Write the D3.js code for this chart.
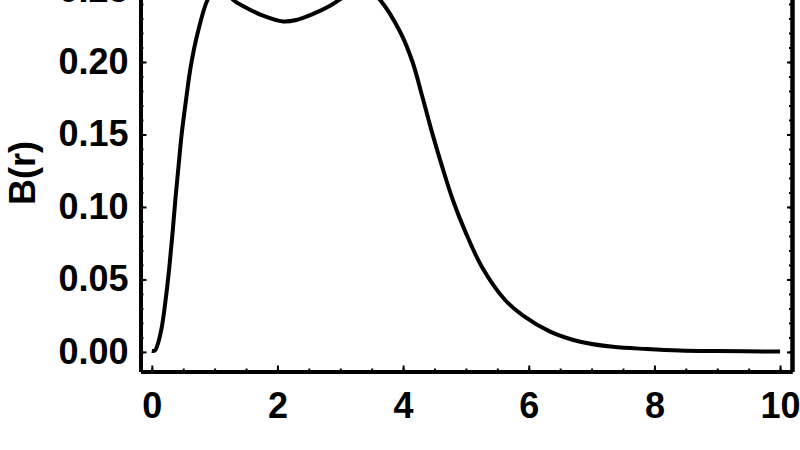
<!DOCTYPE html>
<html>
<head>
<meta charset="utf-8">
<script src="https://cdn.jsdelivr.net/npm/d3@7"></script>
<style>
  html, body { margin: 0; padding: 0; background: #fff; }
  svg { display: block; }
  .tick text { font-family: "Liberation Sans", Arial, sans-serif; font-weight: bold; }
</style>
</head>
<body>
<div id="chart"></div>
<script>
// r values and B(r)
const rValues = [0, 0.05, 0.14, 0.22, 0.28, 0.33, 0.375, 0.425, 0.48, 0.545, 0.62, 0.73, 0.89, 1.0, 1.1, 1.2, 1.29,
  1.45, 1.77, 2.09, 2.3, 2.56, 2.83, 2.99, 3.2, 3.35, 3.5, 3.63, 3.95, 4.15, 4.3, 4.45, 4.62, 4.79, 4.99,
  5.25, 5.62, 5.91, 6.34, 6.82, 7.34, 7.88, 8.4, 9.0, 10];
const bValues = [0.0007, 0.001, 0.013, 0.036, 0.059, 0.082, 0.105, 0.128, 0.152, 0.174, 0.197, 0.220, 0.243, 0.249, 0.251, 0.248, 0.243,
  0.2386, 0.232, 0.228, 0.229, 0.233, 0.2386, 0.243, 0.249, 0.251, 0.248, 0.243, 0.221, 0.200, 0.177, 0.153, 0.128, 0.105, 0.083,
  0.059, 0.036, 0.025, 0.014, 0.007, 0.0035, 0.002, 0.001, 0.0006, 0.0003];

const xTicks = [0, 2, 4, 6, 8, 10];
const yTicks = [0, 0.05, 0.10, 0.15, 0.20, 0.25];
const xMinorTicks = d3.range(0, 10.01, 0.5);
const yMinorTicks = d3.range(0, 0.2601, 0.01);
const yLabel = "B(r)";

function drawChart() {
  const width = 800;
  const height = 450;
  const fontSize = 36;

  const svg = d3.select("#chart")
    .append("svg")
    .attr("width", width)
    .attr("height", height);

  // plot range (frame edges); the top edge sits above the visible area
  const x = d3.scaleLinear().domain([-0.18, 10.19]).range([140.5, 792]);
  const y = d3.scaleLinear().domain([-0.0135, 0.27]).range([371.5, -39.5]);

  const frameWidth = 4;

  const addAxis = (axis, transform, labels) => {
    const g = svg.append("g").attr("transform", transform).call(axis);
    g.select(".domain").attr("stroke-width", frameWidth).attr("stroke", "#000");
    g.selectAll(".tick line").attr("stroke-width", 2).attr("stroke", "#000");
    if (labels) {
      g.selectAll(".tick text").attr("font-size", fontSize).attr("fill", "#000");
    } else {
      g.selectAll(".tick text").remove();
    }
    return g;
  };

  // left
  addAxis(d3.axisLeft(y).tickValues(yMinorTicks).tickSizeInner(-3).tickSizeOuter(0),
    `translate(${x.range()[0]},0)`, false);
  addAxis(d3.axisLeft(y).tickValues(yTicks).tickSizeInner(-6).tickSizeOuter(0).tickPadding(12)
    .tickFormat(d3.format(".2f")), `translate(${x.range()[0]},0)`, true);

  // right
  addAxis(d3.axisRight(y).tickValues(yMinorTicks).tickSizeInner(-3).tickSizeOuter(0),
    `translate(${x.range()[1]},0)`, false);
  addAxis(d3.axisRight(y).tickValues(yTicks).tickSizeInner(-5).tickSizeOuter(0),
    `translate(${x.range()[1]},0)`, false);

  // bottom
  addAxis(d3.axisBottom(x).tickValues(xMinorTicks).tickSizeInner(-3).tickSizeOuter(0),
    `translate(0,${y.range()[0]})`, false);
  addAxis(d3.axisBottom(x).tickValues(xTicks).tickSizeInner(-6).tickSizeOuter(0).tickPadding(21)
    .tickFormat(d3.format("d")), `translate(0,${y.range()[0]})`, true);

  // top (off screen)
  addAxis(d3.axisTop(x).tickValues(xTicks).tickSizeInner(-6).tickSizeOuter(0),
    `translate(0,${y.range()[1]})`, false);

  // curve
  const points = rValues.map((r, i) => [r, bValues[i]]);
  const line = d3.line()
    .x(d => x(d[0]))
    .y(d => y(d[1]))
    .curve(d3.curveCatmullRom.alpha(0.5));

  svg.append("path")
    .datum(points)
    .attr("d", line)
    .attr("fill", "none")
    .attr("stroke", "#000")
    .attr("stroke-width", 4)
    .attr("stroke-linejoin", "round");

  // y label
  svg.append("text")
    .attr("transform", `translate(35,173) rotate(-90)`)
    .attr("text-anchor", "middle")
    .attr("font-family", "Liberation Sans, Arial, sans-serif")
    .attr("font-weight", "bold")
    .attr("font-size", fontSize)
    .text(yLabel);
}

drawChart();
</script>
</body>
</html>
